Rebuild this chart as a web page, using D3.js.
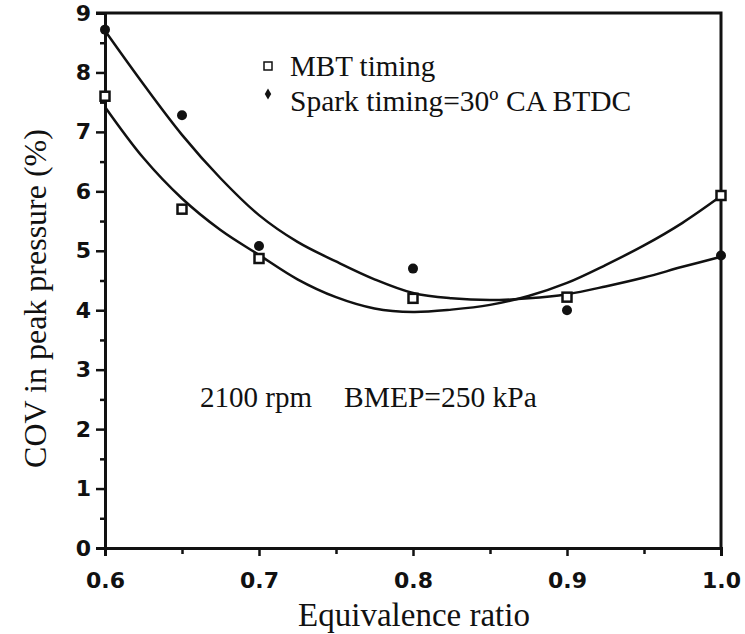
<!DOCTYPE html>
<html><head><meta charset="utf-8">
<script src="https://cdn.jsdelivr.net/npm/d3@7"></script>
<style>body{margin:0;background:#fff}svg{display:block}</style>
</head><body>
<svg id="c" width="745" height="634"></svg>
<script>
// Data
const phi = [0.6, 0.65, 0.7, 0.8, 0.9, 1.0];
const mbtCOV = [7.6, 5.7, 4.87, 4.2, 4.22, 5.93];
const sparkCOV = [8.72, 7.28, 5.08, 4.7, 4.0, 4.92];

// Fitted trend curves
const fitPhi = [0.6, 0.625, 0.65, 0.675, 0.7, 0.725, 0.75, 0.775, 0.8, 0.825, 0.85, 0.875, 0.9, 0.925, 0.95, 0.975, 1.0];
const mbtFit = [7.42, 6.56, 5.88, 5.35, 4.93, 4.52, 4.22, 4.03, 3.97, 4.01, 4.09, 4.24, 4.46, 4.76, 5.09, 5.47, 5.92];
const sparkFit = [8.70, 7.80, 6.95, 6.22, 5.60, 5.15, 4.82, 4.52, 4.29, 4.20, 4.17, 4.20, 4.27, 4.40, 4.55, 4.73, 4.90];

const xTicks = [0.6, 0.7, 0.8, 0.9, 1.0];
const xMinorTicks = [0.65, 0.75, 0.85, 0.95];
const yTicks = [0, 1, 2, 3, 4, 5, 6, 7, 8, 9];
const yMinorTicks = [0.5, 1.5, 2.5, 3.5, 4.5, 5.5, 6.5, 7.5, 8.5];

const legendLabels = ["MBT timing", "Spark timing=30º CA BTDC"];
const annotation = ["2100 rpm", "BMEP=250 kPa"];
const xTitle = "Equivalence ratio";
const yTitle = "COV in peak pressure (%)";

const svg = d3.select("#c");
const L = 105, R = 721, T = 13, B = 548;
const x = d3.scaleLinear().domain([0.6, 1.0]).range([L, R]);
const y = d3.scaleLinear().domain([0, 9]).range([B, T]);
const ink = "#111";

// frame (top & right)
svg.append("path").attr("d", `M${L-9},${T}H${R}V${B}`).attr("fill", "none")
  .attr("stroke", ink).attr("stroke-width", 3);

// axes
const styleAxis = g => {
  g.select(".domain").attr("stroke", ink).attr("stroke-width", 3);
  g.selectAll(".tick line").attr("stroke", ink).attr("stroke-width", 2.5);
  g.selectAll(".tick text").attr("fill", ink).attr("font-family", "DejaVu Sans, sans-serif")
    .attr("font-weight", "bold").attr("font-size", 22);
};
svg.append("g").attr("transform", `translate(${L},0)`)
  .call(d3.axisLeft(y).tickValues(yTicks).tickSize(9).tickPadding(5).tickFormat(d3.format("d")))
  .call(styleAxis);
svg.append("g").attr("transform", `translate(${L},0)`)
  .call(d3.axisLeft(y).tickValues(yMinorTicks).tickSize(5).tickFormat(""))
  .call(g => { g.select(".domain").remove(); g.selectAll(".tick line").attr("stroke", ink).attr("stroke-width", 2.5); });

svg.append("g").attr("transform", `translate(0,${B})`)
  .call(d3.axisBottom(x).tickValues(xTicks).tickSize(8).tickPadding(16).tickFormat(d3.format(".1f")))
  .call(styleAxis);
svg.append("g").attr("transform", `translate(0,${B})`)
  .call(d3.axisBottom(x).tickValues(xMinorTicks).tickSize(6).tickFormat(""))
  .call(g => { g.select(".domain").remove(); g.selectAll(".tick line").attr("stroke", ink).attr("stroke-width", 2.5); });

// curves
const line = d3.line().x(d => x(d[0])).y(d => y(d[1])).curve(d3.curveCatmullRom.alpha(0.5));
svg.append("path").datum(d3.zip(fitPhi, mbtFit)).attr("d", line)
  .attr("fill", "none").attr("stroke", ink).attr("stroke-width", 2.5);
svg.append("path").datum(d3.zip(fitPhi, sparkFit)).attr("d", line)
  .attr("fill", "none").attr("stroke", ink).attr("stroke-width", 2.5);

// markers
svg.selectAll(".mbt").data(d3.zip(phi, mbtCOV)).join("rect").attr("class", "mbt")
  .attr("x", d => x(d[0]) - 4.5).attr("y", d => y(d[1]) - 4.5).attr("width", 9).attr("height", 9)
  .attr("fill", "#fff").attr("stroke", ink).attr("stroke-width", 2.5);
svg.selectAll(".spark").data(d3.zip(phi, sparkCOV)).join("circle").attr("class", "spark")
  .attr("cx", d => x(d[0])).attr("cy", d => y(d[1])).attr("r", 5).attr("fill", ink);

// legend
const serif = "Liberation Serif, Times New Roman, serif";
svg.append("rect").attr("x", 264).attr("y", 62).attr("width", 8).attr("height", 8)
  .attr("fill", "#fff").attr("stroke", ink).attr("stroke-width", 1.5);
svg.append("path").attr("d", d3.symbol(d3.symbolDiamond, 36)()).attr("transform", "translate(268,94)").attr("fill", ink);
svg.append("text").attr("x", 290).attr("y", 76).text(legendLabels[0])
  .attr("font-family", serif).attr("font-size", 29).attr("fill", ink);
svg.append("text").attr("x", 290).attr("y", 111).text(legendLabels[1])
  .attr("font-family", serif).attr("font-size", 29.5).attr("fill", ink);

// annotation
svg.append("text").attr("x", 200).attr("y", 407).text(annotation[0])
  .attr("font-family", serif).attr("font-size", 29).attr("fill", ink);
svg.append("text").attr("x", 344).attr("y", 407).text(annotation[1])
  .attr("font-family", serif).attr("font-size", 29.5).attr("fill", ink);

// titles
svg.append("text").attr("x", 414).attr("y", 626).attr("text-anchor", "middle").text(xTitle)
  .attr("font-family", serif).attr("font-size", 33).attr("fill", ink);
svg.append("text").attr("transform", `translate(46,${(T + B) / 2 + 18}) rotate(-90)`).attr("text-anchor", "middle").text(yTitle)
  .attr("font-family", serif).attr("font-size", 32).attr("fill", ink);
</script>
</body></html>
